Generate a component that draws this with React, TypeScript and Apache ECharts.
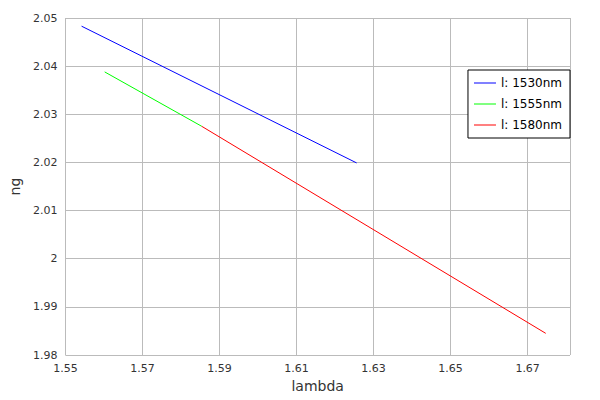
import { useEffect, useRef } from 'react'
import * as echarts from 'echarts'

const names = ['l: 1530nm', 'l: 1555nm', 'l: 1580nm']
const colors = ['#0000ff', '#00ff00', '#ff0000']
const blue: Array<[number, number]> = [[1.5542, 2.0483], [1.6256, 2.0199]]
const green: Array<[number, number]> = [[1.5602, 2.0388], [1.5854, 2.0275]]
const red: Array<[number, number]> = [[1.5854, 2.0275], [1.6747, 1.9845]]

export default function App() {
  const ref = useRef<HTMLDivElement>(null)

  useEffect(() => {
    if (!ref.current) return
    const chart = echarts.init(ref.current, null, { renderer: 'svg' })
    const font = 'DejaVu Sans'
    chart.setOption({
      animation: false,
      textStyle: { fontFamily: font },
      grid: { left: 45, right: 30, top: 18, bottom: 45 },
      legend: {
        orient: 'vertical',
        right: 30,
        top: 70,
        data: names,
        icon: 'rect',
        itemWidth: 22,
        itemHeight: 1,
        itemGap: 9,
        padding: [7, 8, 7, 6],
        borderColor: '#000',
        borderWidth: 1,
        backgroundColor: '#fff',
        borderRadius: 0,
        textStyle: { fontFamily: font, fontSize: 12, color: '#000' },
      },
      xAxis: {
        type: 'value',
        min: 1.55,
        max: 1.681,
        interval: 0.02,
        name: 'lambda',
        nameLocation: 'middle',
        nameGap: 24,
        nameTextStyle: { fontFamily: font, fontSize: 14, color: '#333' },
        axisLine: { show: false },
        axisTick: { show: false },
        splitLine: { lineStyle: { color: '#bbb' } },
        axisLabel: {
          fontFamily: font, fontSize: 11, color: '#333', showMaxLabel: false,
          formatter: (v: number) => String(+v.toFixed(2)),
        },
      },
      yAxis: {
        type: 'value',
        min: 1.98,
        max: 2.05,
        interval: 0.01,
        name: 'ng',
        nameLocation: 'middle',
        nameGap: 42,
        nameTextStyle: { fontFamily: font, fontSize: 14, color: '#333' },
        axisLine: { show: false },
        axisTick: { show: false },
        splitLine: { lineStyle: { color: '#bbb' } },
        axisLabel: {
          fontFamily: font, fontSize: 11, color: '#333',
          formatter: (v: number) => String(+v.toFixed(2)),
        },
      },
      series: [blue, green, red].map((d, i) => ({
        name: names[i],
        type: 'line',
        data: d,
        symbol: 'none',
        color: colors[i],
        lineStyle: { width: 1, color: colors[i] },
      })),
    })
    return () => chart.dispose()
  }, [])

  return <div ref={ref} style={{ width: 600, height: 400, margin: -8 }} />
}
